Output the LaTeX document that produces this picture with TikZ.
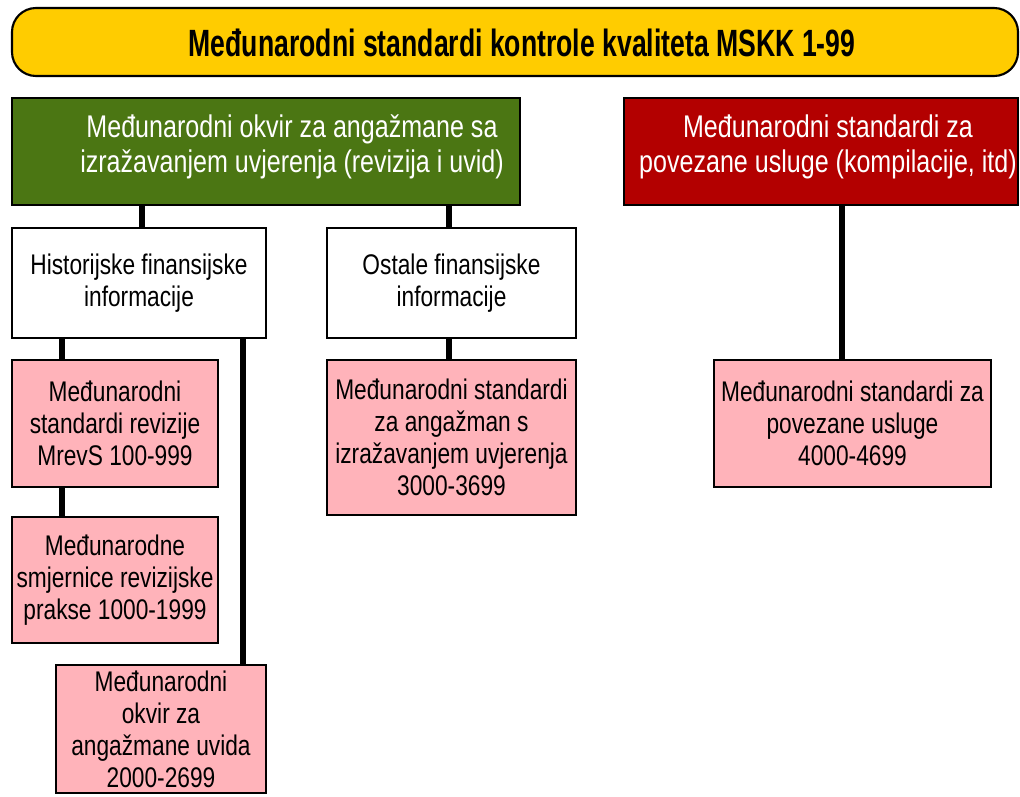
\documentclass[tikz,border=0pt]{standalone}
\usepackage{fontspec}
\setmainfont{Liberation Sans}[FakeStretch=0.8]
\newfontfamily\titlefont{Liberation Sans}[FakeStretch=0.7]
\definecolor{ttlyellow}{HTML}{FFCC00}
\definecolor{okgreen}{HTML}{4B7613}
\definecolor{okred}{HTML}{B30000}
\definecolor{okpink}{HTML}{FFB3BA}
\tikzset{
  pxbox/.style={draw=black, line width=1.9pt, inner sep=0pt, align=center},
  headbox/.style={pxbox, text=white},
  headfont/.style={font=\fontsize{23.5pt}{26.25pt}\selectfont},
  whitebox/.style={pxbox, fill=white, font=\fontsize{21.3pt}{24pt}\selectfont},
  pinkbox/.style={pxbox, fill=okpink, font=\fontsize{21.3pt}{24pt}\selectfont},
  conn/.style={line width=3.8pt, draw=black},
}
\begin{document}
\begin{tikzpicture}[x=0.75pt, y=-0.75pt]
\useasboundingbox (0,0) rectangle (1020,796);
% title
\node[draw=black, line width=1.6pt, fill=ttlyellow, rounded corners=18pt,
      minimum width=1006*0.75pt, minimum height=68*0.75pt, inner sep=0pt]
      (title) at (515,42) {};
\node[font=\titlefont\bfseries\fontsize{28.5pt}{30pt}\selectfont, inner sep=0pt]
      (titletext) at (522,43) {Međunarodni standardi kontrole kvaliteta MSKK 1-99};
% top level
\node[headbox, fill=okgreen, minimum width=508*0.75pt, minimum height=107*0.75pt]
      (green) at (266,151.5) {};
\node[text=white, headfont, align=center, inner sep=0pt]
      (greentext) at (292,147) {Međunarodni okvir za angažmane sa\\izražavanjem uvjerenja (revizija i uvid)};
\node[headbox, fill=okred, minimum width=394*0.75pt, minimum height=107*0.75pt]
      (red) at (821,151.5) {};
\node[text=white, headfont, align=center, inner sep=0pt]
      (redtext) at (828,147) {Međunarodni standardi za\\povezane usluge (kompilacije, itd)};
% second level
\node[whitebox, minimum width=254*0.75pt, minimum height=110*0.75pt]
      (hist) at (139,283) {Historijske finansijske\\informacije};
\node[whitebox, minimum width=249*0.75pt, minimum height=110*0.75pt]
      (ostale) at (451.5,283) {Ostale finansijske\\informacije};
% pink boxes
\node[pinkbox, minimum width=206*0.75pt, minimum height=127*0.75pt]
      (mrevs) at (115,423.5) {Međunarodni\\standardi revizije\\MrevS 100-999};
\node[pinkbox, minimum width=206*0.75pt, minimum height=126*0.75pt]
      (smjer) at (115,580) {Međunarodne\\smjernice revizijske\\prakse 1000-1999};
\node[pinkbox, minimum width=210*0.75pt, minimum height=128*0.75pt]
      (uvid) at (161,729) {Međunarodni\\okvir za\\angažmane uvida\\2000-2699};
\node[pinkbox, minimum width=249*0.75pt, minimum height=155*0.75pt]
      (uvjer) at (451.5,437.5) {Međunarodni standardi\\za angažman s\\izražavanjem uvjerenja\\3000-3699};
\node[pinkbox, minimum width=277*0.75pt, minimum height=127*0.75pt]
      (povez) at (852.5,423.5) {Međunarodni standardi za\\povezane usluge\\4000-4699};
% connectors
\draw[conn] (green.south -| 142,0) -- (hist.north -| 142,0);
\draw[conn] (green.south -| 449,0) -- (ostale.north -| 449,0);
\draw[conn] (hist.south -| 62,0) -- (mrevs.north -| 62,0);
\draw[conn] (mrevs.south -| 62,0) -- (smjer.north -| 62,0);
\draw[conn] (hist.south -| 243,0) -- (uvid.north -| 243,0);
\draw[conn] (ostale.south -| 449,0) -- (uvjer.north -| 449,0);
\draw[conn] (red.south -| 842,0) -- (povez.north -| 842,0);
\end{tikzpicture}
\end{document}
